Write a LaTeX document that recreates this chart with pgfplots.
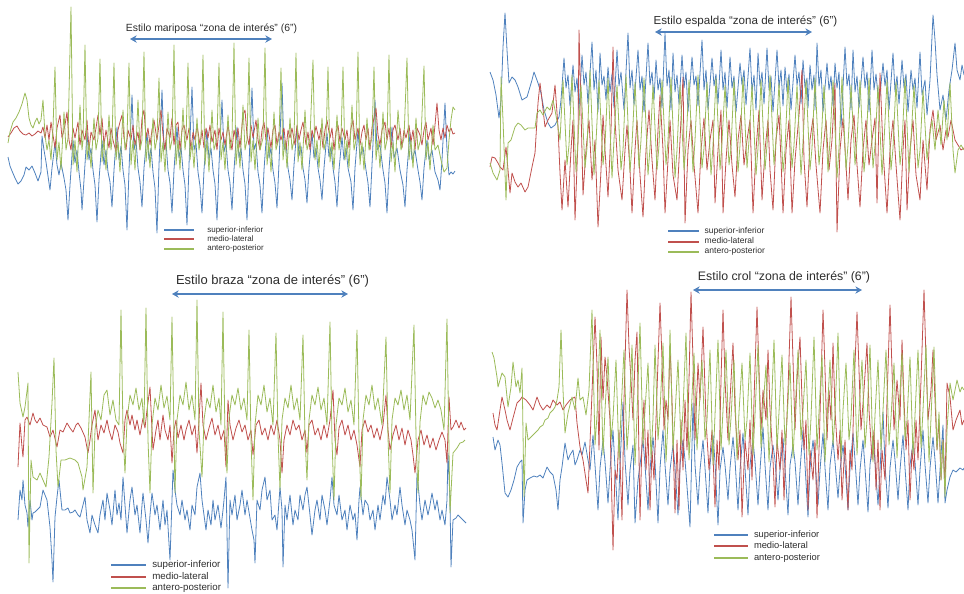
\documentclass[border=0pt]{standalone}
\usepackage{pgfplots}
\pgfplotsset{compat=1.18}
\usepackage{fontspec}
\setmainfont{Liberation Sans}
\usetikzlibrary{arrows.meta}
\definecolor{siblue}{RGB}{79,129,189}
\definecolor{mlred}{RGB}{192,80,77}
\definecolor{apgreen}{RGB}{155,187,89}
\definecolor{txt}{RGB}{45,45,45}

% every panel shares one canvas-sized coordinate frame (x right, y down)
\pgfplotsset{
  panel/.style={
    x=0.75pt, y=0.75pt, y dir=reverse,
    xmin=0, xmax=964, ymin=0, ymax=593,
    hide axis, clip=false,
    anchor=north west, at={(0pt,0pt)},
    legend cell align=left,
    every axis plot/.append style={line width=0.6pt, line join=round},
  },
  legbox/.style n args={4}{
    legend style={at={(axis cs:#1,#2)}, anchor=north west, draw=none, fill=none,
      inner sep=0pt, text=txt, font=\fontsize{#3}{#3}\selectfont, row sep=#4,
      nodes={inner ysep=0pt, inner xsep=0pt}},
  },
  legline/.style 2 args={
    legend image code/.code={\draw[##1, line width=1.5pt] (0pt,0pt) -- (#1,0pt); \path (#2,0pt);},
  },
}
\tikzset{zone/.style={siblue, line width=1.5pt, {Stealth[length=5pt,width=5.5pt]}-{Stealth[length=5pt,width=5.5pt]}}}

\begin{document}
\begin{tikzpicture}
\useasboundingbox (0pt,0pt) rectangle (723pt,-444.75pt);

% ---------------- mariposa ----------------
\begin{axis}[panel, legbox={163}{226}{6}{1.1pt}, legline={22pt}{32pt}]
\addplot[siblue] coordinates {(8,157)(10,166)(12,171)(15,178)(18,184)(21,181)(24,175)(26,167)(29,170)(32,166)(35,173)(38,181)(41,172)(42,136)(44,150)(46,162)(48,176)(50,190)(52,168)(55,143)(57,165)(59,175)(61,163)(64,178)(66,190)
(68,220)(70,185)(73,140)(75,163)(77,150)(79,172)(81,190)
(82,210)(84,180)(87,133)(89,160)(91,148)(93,170)(95,185)
(97,222)(99,180)(102,140)(104,165)(106,150)(108,172)(110,182)
(112,207)(114,170)(117,127)(119,160)(121,146)(123,170)(125,185)
(127,230)(129,170)(132,95)(134,150)(136,140)(138,168)(140,182)
(142,207)(144,168)(147,133)(149,160)(151,148)(153,172)(155,188)
(157,233)(159,165)(162,90)(164,150)(166,142)(168,170)(170,183)
(172,213)(174,170)(177,127)(179,158)(181,147)(183,170)(185,185)
(187,225)(189,165)(192,87)(194,150)(196,143)(198,172)(200,186)
(202,213)(204,170)(207,130)(209,160)(211,148)(213,170)(215,184)
(217,220)(219,165)(222,100)(224,152)(226,143)(228,170)(230,183)
(232,210)(234,170)(237,127)(239,158)(241,148)(243,170)(245,184)
(247,220)(249,165)(252,88)(254,150)(256,143)(258,172)(260,185)
(262,213)(264,170)(267,127)(269,158)(271,148)(273,170)(275,183)
(277,208)(279,163)(282,83)(284,150)(286,142)(288,168)(290,180)
(292,200)(294,165)(297,127)(299,156)(301,146)(303,168)(305,180)
(307,203)(309,168)(312,133)(314,158)(316,148)(318,168)(320,180)
(322,200)(324,168)(327,133)(329,157)(331,147)(333,168)(335,182)
(337,207)(339,170)(342,137)(344,160)(346,148)(348,168)(351,182)
(353,210)(355,168)(358,130)(360,158)(363,147)(366,170)(368,183)
(370,207)(372,165)(375,100)(377,150)(380,145)(383,170)(385,183)
(387,213)(389,170)(392,127)(394,158)(397,148)(400,170)(403,185)
(405,207)(407,170)(410,133)(412,160)(415,150)(418,170)(420,182)
(422,200)(424,168)(427,140)(429,160)(432,150)(435,172)(438,180)
(440,190)(442,160)(445,103)(447,150)(449,175)(451,172)(453,174)(455,171)};
\addplot[mlred] coordinates {(8,137)(11,133)(14,128)(17,126)(20,131)(23,134)(26,135)(29,133)(32,136)(35,134)(38,131)(41,133)(43,127)(45,138)(47,125)(49,140)(51,122)(53,135)(55,148)(57,128)(60,115)(62,138)(65,125)(67,112)(69,140)(71,150)(73,128)(75,138)(78,122)(80,145)(82,130)(85,140)(87,120)(89,150)(91,132)(94,140)(96,128)(98,115)(100,135)(102,118)(104,145)(106,130)(109,148)(111,128)(113,140)(116,152)(118,130)(120,122)(122,115)(124,138)(126,150)(128,130)(131,140)(133,125)(135,145)(138,132)(140,150)(142,118)(144,110)(146,138)(148,128)(150,145)(152,130)(154,120)(157,140)(159,125)(161,110)(163,135)(165,150)(167,128)(170,138)(172,118)(174,145)(176,125)(178,122)(180,150)(182,130)(184,125)(187,140)(189,128)(191,150)(193,132)(195,140)(197,125)(200,145)(202,130)(204,148)(206,128)(208,138)(210,125)(212,142)(215,130)(217,150)(219,128)(221,140)(223,132)(225,145)(228,125)(230,138)(232,150)(234,130)(236,140)(238,128)(240,148)(243,115)(245,110)(247,135)(249,145)(251,125)(253,138)(256,120)(258,140)(260,150)(262,130)(264,122)(266,140)(268,128)(271,148)(273,130)(275,125)(277,145)(279,132)(281,140)(284,128)(286,150)(288,130)(290,138)(292,128)(295,145)(297,125)(299,140)(301,130)(303,122)(306,145)(308,132)(310,150)(312,130)(314,138)(316,126)(319,140)(321,128)(323,148)(325,130)(327,120)(330,138)(332,128)(334,150)(336,132)(338,125)(340,142)(342,128)(345,140)(347,130)(349,148)(351,128)(353,120)(355,140)(358,128)(360,145)(362,132)(364,125)(366,140)(368,128)(370,150)(372,128)(374,118)(376,108)(378,135)(380,145)(382,130)(385,122)(387,140)(389,128)(391,148)(393,130)(395,125)(398,140)(400,128)(402,148)(404,130)(406,138)(409,125)(411,142)(413,130)(415,150)(417,128)(420,135)(422,145)(424,130)(426,122)(428,140)(431,128)(433,145)(435,125)(437,103)(439,130)(441,140)(443,128)(445,138)(447,125)(449,132)(451,128)(453,134)(455,133)};
\addplot[apgreen] coordinates {(8,143)(10,132)(13,122)(16,118)(19,112)(22,104)(25,93)(27,100)(29,118)(31,125)(33,128)(35,122)(37,118)(39,124)(41,120)(43,100)(45,135)(47,150)(49,140)(51,160)(53,128)
(55,67)(57,160)(59,142)(61,170)(64,112)(66,150)(68,138)
(71,7)(73,165)(75,140)(77,172)(80,105)(82,150)(83,140)
(85,45)(87,160)(89,142)(91,168)(94,118)(96,150)(98,138)
(100,59)(102,162)(104,140)(106,170)(109,115)(111,150)(112,140)
(114,63)(116,160)(118,142)(120,172)(123,110)(125,150)(127,138)
(129,63)(131,165)(133,140)(135,170)(138,100)(140,150)(142,140)
(144,52)(146,162)(148,140)(150,168)(153,118)(155,150)(157,138)
(159,78)(161,162)(163,142)(165,172)(168,112)(170,150)(172,140)
(174,45)(176,165)(178,140)(180,170)(183,108)(185,150)(186,140)
(188,63)(190,160)(192,142)(194,168)(197,118)(199,150)(201,138)
(203,55)(205,165)(207,140)(209,172)(212,110)(214,150)(217,138)
(219,63)(221,160)(223,142)(225,170)(228,115)(230,150)(232,138)
(234,43)(236,165)(238,140)(240,168)(243,105)(245,150)(247,140)
(249,58)(251,162)(253,140)(255,170)(258,118)(260,150)(263,138)
(265,48)(267,165)(269,142)(271,172)(274,112)(276,150)(279,138)
(281,68)(283,160)(285,140)(287,168)(290,118)(292,150)(294,140)
(296,53)(298,162)(300,142)(302,170)(305,110)(307,150)(310,138)
(313,60)(315,160)(317,140)(319,168)(322,118)(324,150)(326,140)
(328,67)(330,162)(332,142)(334,170)(337,115)(339,150)(341,138)
(343,67)(345,160)(347,140)(349,168)(352,105)(354,150)(356,140)
(358,52)(360,165)(362,142)(364,170)(367,118)(369,150)(372,138)
(374,67)(376,160)(378,140)(380,168)(383,112)(385,150)(387,140)
(389,55)(391,162)(393,142)(395,172)(398,110)(401,150)(404,138)
(407,58)(409,160)(411,140)(413,168)(416,118)(418,150)(421,138)
(424,66)(426,160)(428,142)(430,170)(433,125)(435,150)(438,145)(441,160)(444,172)(447,168)(449,140)(451,120)(453,107)(455,110)};
\legend{superior-inferior, medio-lateral, antero-posterior}
\node[text=txt, font=\fontsize{7.8}{9}\selectfont] at (axis cs:211.5,29) {Estilo mariposa “zona de interés” (6”)};
\draw[zone] (axis cs:130,39) -- (axis cs:272,39);
\end{axis}

% ---------------- espalda ----------------
\begin{axis}[panel, legbox={667}{227}{6.4}{1.5pt}, legline={23pt}{27pt}]
\addplot[siblue] coordinates {(490,72)(493,80)(496,95)(499,118)(501,100)(503,47)(505,13)(507,50)(509,83)(512,77)(515,80)(518,87)(522,100)(527,97)(532,80)(534,72)(538,83)(541,93)(544,110)(548,123)(551,128)(555,125)(559,117)(561,100)
(564,58)(566,88)(568,75)(570,106)(573,65)(575,92)(577,78)(579,110)(582,55)(584,85)(586,72)(588,104)(592,42)(594,90)(596,70)(598,112)
(600,53)(602,85)(604,76)(606,100)(608,67)(610,92)(612,74)(614,108)(617,50)(619,86)(621,72)(624,110)(628,33)(630,88)(632,70)(634,105)
(638,50)(640,90)(642,76)(644,112)(648,43)(650,85)(652,72)(654,100)(656,60)(658,90)(660,78)(662,108)(665,33)(667,86)(669,70)(671,110)
(673,53)(675,92)(677,75)(679,104)(682,55)(684,88)(686,72)(688,112)(692,57)(694,85)(696,76)(698,106)(702,40)(704,90)(706,70)(708,110)
(712,58)(714,86)(716,74)(718,104)(721,50)(723,90)(725,72)(727,108)(730,57)(732,88)(734,76)(736,112)(740,63)(742,85)(744,70)(746,105)
(750,48)(752,92)(754,75)(756,110)(758,53)(760,86)(762,72)(764,104)(767,48)(769,90)(771,76)(773,112)(777,50)(779,88)(781,70)(783,106)
(785,67)(787,92)(789,74)(791,110)(795,55)(797,85)(799,72)(801,104)(803,60)(805,88)(807,78)(808,108)(810,65)(812,90)(814,75)(815,110)
(817,43)(819,86)(821,70)(823,112)(827,63)(829,90)(831,76)(833,106)(835,63)(837,88)(839,72)(841,127)(845,47)(847,86)(849,74)(851,110)
(853,50)(855,92)(857,76)(859,108)(863,57)(865,88)(867,72)(869,112)(872,50)(874,90)(876,74)(879,106)(883,63)(885,86)(887,70)(889,110)
(893,53)(895,92)(897,76)(899,104)(902,60)(904,88)(906,74)(908,112)(911,70)(913,90)(915,78)(917,108)(920,52)(922,95)
(925,80)(927,115)(930,80)(933,15)(935,40)(937,75)(940,110)(943,95)(946,120)(949,90)(952,70)(955,43)(957,70)(960,80)(962,65)(964,75)};
\addplot[mlred] coordinates {(490,167)(492,157)(495,158)(498,163)(500,167)(503,170)(506,147)(508,170)(510,193)(512,173)(515,182)(518,187)(521,183)(525,192)(528,187)(532,167)(535,153)(538,103)(540,83)(542,100)(545,127)(548,120)(552,113)(555,85)(558,127)(560,173)(562,210)
(565,160)(568,207)(571,150)(573,120)(575,220)(578,140)(579,30)(581,110)(583,195)(586,150)(589,120)(592,180)(595,140)(598,227)(601,170)(603,115)(605,150)(608,197)(611,130)(613,47)(615,120)(618,170)(622,200)(625,150)(627,125)(630,170)(632,213)(635,150)(637,120)(640,175)(643,217)(646,150)(649,110)(652,160)(655,200)(658,130)(660,95)(663,150)(665,213)(668,160)(670,120)(673,175)(677,200)(680,140)(683,77)(685,223)(688,150)(691,120)(694,165)(698,213)(701,150)(704,118)(707,170)(710,140)(713,120)(715,203)(718,150)(721,110)(723,213)(726,160)(729,120)(732,165)(735,197)(738,140)(741,115)(744,165)(747,140)(750,120)(753,213)(756,150)(759,110)(762,200)(765,150)(768,120)(770,170)(773,210)(776,140)(779,115)(781,160)(783,213)(786,150)(789,120)(792,213)(795,160)(799,115)(802,70)(804,160)(807,207)(810,140)(813,118)(816,165)(820,213)(823,150)(826,120)(829,170)(832,140)(835,83)(837,232)(840,150)(843,118)(846,165)(848,200)(851,140)(854,115)(857,165)(860,207)(863,150)(866,120)(869,165)(872,140)(875,118)(877,203)(880,73)(883,150)(887,213)(890,150)(893,120)(896,165)(900,220)(903,150)(905,120)(907,210)(910,150)(913,120)(916,175)(920,200)(923,140)(927,190)(930,130)(933,110)(936,140)(940,125)(943,150)(946,130)(948,137)(951,120)(955,140)(958,145)(961,150)(964,148)};
\addplot[apgreen] coordinates {(490,163)(493,173)(497,180)(500,170)(501,77)(503,120)(506,200)(508,143)(511,140)(515,127)(518,123)(521,125)(525,130)(528,128)(532,128)(535,128)(537,113)(540,110)(543,115)(547,107)(550,110)(553,100)(555,110)(558,127)(560,140)
(563,80)(567,165)(569,145)(572,75)(576,172)(578,140)(581,85)(585,168)(587,148)(590,70)(594,175)(596,142)(599,80)(603,165)(605,145)
(608,78)(612,178)(614,140)(617,85)(621,170)(623,150)(626,75)(630,172)(632,145)(635,82)(639,168)(641,140)(644,78)(648,175)(650,148)
(653,85)(657,170)(659,145)(662,80)(666,165)(668,140)(671,77)(675,178)(677,150)(680,85)(684,170)(686,145)(689,80)(693,172)(695,140)
(698,75)(702,168)(704,148)(707,82)(711,175)(713,145)(716,78)(720,170)(722,142)(725,85)(729,165)(731,148)(734,80)(738,172)(740,145)
(743,77)(747,168)(749,140)(752,85)(756,175)(758,148)(761,80)(765,170)(767,145)(770,75)(774,165)(776,140)(779,83)(783,172)(785,150)
(788,78)(792,168)(794,145)(797,85)(801,175)(803,142)(806,80)(810,170)(812,148)(815,78)(819,165)(821,145)(824,85)(828,172)(830,140)
(833,80)(837,178)(839,148)(842,77)(846,170)(848,145)(851,85)(855,165)(857,140)(860,80)(864,172)(866,150)(869,78)(873,168)(875,145)
(878,85)(882,175)(884,142)(887,80)(891,170)(893,148)(896,82)(900,165)(902,145)(905,78)(909,172)(911,140)(914,85)(918,168)(920,150)
(923,90)(927,160)(929,140)(932,120)(935,150)(938,110)(941,145)(944,100)(947,140)(950,83)(953,150)(955,173)(958,150)(961,145)(964,150)};
\legend{superior-inferior, medio-lateral, antero-posterior}
\node[text=txt, font=\fontsize{8.7}{10}\selectfont] at (axis cs:745.5,21) {Estilo espalda “zona de interés” (6”)};
\draw[zone] (axis cs:655,32) -- (axis cs:812,32);
\end{axis}

% ---------------- braza ----------------
\begin{axis}[panel, legbox={110}{560}{7.3}{2.0pt}, legline={26pt}{30.5pt}]
\addplot[siblue] coordinates {(18,520)(20,490)(22,500)(23,480)(25,505)(27,513)(28,527)(30,500)(32,520)(33,513)(35,512)(37,510)(40,507)(43,490)(47,500)(50,527)(52,560)(53,582)(55,517)(57,497)(59,480)(62,510)(65,510)(68,508)(70,513)(73,512)(75,510)(78,515)(80,517)(83,505)(85,497)(87,520)(90,533)(92,515)(95,525)(98,533)(100,515)(103,500)(105,520)(107,493)(110,510)(112,525)(115,490)(117,515)(119,503)(121,520)(123,477)(125,505)(127,533)(130,500)(132,487)(135,515)(137,505)(140,533)(142,505)(143,493)(146,520)(148,543)(150,515)(152,493)(155,515)(157,505)(160,530)(163,500)(165,525)(167,510)(170,560)(172,500)(173,470)(175,490)(177,505)(180,515)(182,500)(185,520)(187,510)(190,530)(192,505)(195,515)(197,487)(200,473)(202,500)(204,515)(206,530)(208,510)(211,525)(213,500)(215,520)(218,505)(221,528)(223,510)(224,500)(226,477)(228,588)(230,500)(232,515)(235,495)(237,520)(240,505)(242,490)(245,515)(247,500)(250,518)(252,530)(254,540)(255,563)(257,500)(260,510)(262,490)(265,477)(267,500)(270,490)(272,520)(275,515)(277,530)(280,487)(282,510)(283,567)(285,505)(287,520)(290,495)(293,525)(295,510)(298,520)(300,495)(303,510)(305,495)(307,487)(310,515)(312,535)(315,510)(317,500)(320,520)(322,495)(325,510)(327,525)(330,500)(332,477)(334,505)(337,515)(339,495)(342,520)(345,510)(347,530)(350,505)(353,520)(355,513)(357,540)(359,500)(360,487)(363,515)(365,500)(368,505)(370,520)(373,510)(375,530)(378,505)(380,520)(383,495)(385,505)(387,477)(390,500)(392,520)(395,505)(397,515)(400,487)(402,505)(405,525)(407,510)(410,520)(412,530)(415,560)(417,473)(420,505)(422,520)(425,500)(428,515)(430,505)(432,493)(435,510)(437,500)(440,520)(442,510)(445,525)(447,500)(448,453)(450,500)(451,567)(453,520)(456,518)(458,515)(461,518)(463,520)(466,523)};
\addplot[mlred] coordinates {(18,467)(20,423)(22,447)(23,457)(25,420)(27,417)(30,425)(33,413)(35,420)(37,423)(40,418)(43,425)(47,427)(50,437)(53,430)(57,447)(60,430)(63,432)(67,423)(70,428)(73,432)(76,425)(78,423)(81,428)(85,437)(88,453)(90,440)(92,425)(95,410)(98,440)(101,425)(104,433)(107,420)(109,430)(112,440)(115,425)(118,432)(120,443)(123,453)(125,420)(127,410)(130,425)(132,415)(135,430)(137,420)(140,435)(143,418)(145,428)(147,410)(150,387)(152,430)(153,450)(156,430)(158,420)(160,440)(163,415)(165,430)(168,440)(170,425)(172,463)(174,430)(176,420)(178,438)(181,425)(184,440)(186,430)(189,420)(192,435)(195,425)(197,453)(199,420)(201,383)(203,425)(206,440)(209,428)(212,418)(215,435)(218,425)(221,440)(224,430)(226,467)(228,400)(230,425)(233,440)(236,428)(239,420)(242,432)(245,425)(248,440)(251,430)(253,455)(256,425)(259,420)(262,435)(265,428)(268,440)(271,425)(274,435)(277,420)(280,440)(282,473)(284,440)(287,425)(290,435)(293,420)(296,430)(299,425)(302,440)(305,430)(307,453)(309,425)(312,420)(315,435)(318,428)(321,440)(324,425)(327,438)(330,420)(333,390)(335,440)(337,455)(339,428)(342,420)(345,435)(348,425)(351,440)(354,430)(357,445)(360,467)(362,430)(365,420)(368,432)(371,425)(374,438)(377,428)(380,440)(383,425)(386,395)(388,430)(390,450)(393,435)(396,425)(399,440)(402,428)(405,445)(408,430)(411,440)(413,455)(415,473)(418,440)(421,430)(424,445)(427,435)(430,448)(433,438)(436,450)(439,440)(442,432)(445,440)(447,463)(449,397)(451,430)(453,427)(456,420)(459,428)(461,422)(464,430)(466,428)};
\addplot[apgreen] coordinates {(18,372)(20,403)(23,417)(25,407)(28,383)(29,563)(31,460)(33,477)(37,480)(40,473)(43,480)(46,487)(49,457)(52,403)(54,358)(56,450)(58,487)(61,460)(65,460)(70,458)(75,460)(78,463)(82,477)(83,490)(87,467)(89,420)(91,372)(93,493)(95,430)(98,410)(101,420)(104,395)(107,390)(110,415)(113,400)(116,420)(119,425)
(121,310)(123,430)(125,473)(127,420)(130,395)(133,405)(136,388)(139,410)(142,398)(144,425)
(146,308)(148,440)(150,493)(152,425)(155,398)(158,410)(161,385)(164,408)(167,396)(170,420)
(172,317)(174,435)(175,493)(177,420)(180,395)(183,405)(186,382)(189,410)(192,395)(195,420)
(197,300)(199,430)(202,477)(204,420)(207,398)(210,408)(213,385)(216,412)(219,398)(221,425)
(223,312)(225,435)(227,473)(229,418)(232,395)(235,405)(238,388)(241,410)(244,398)(247,420)
(249,330)(251,440)(253,500)(255,425)(258,395)(261,405)(264,385)(267,412)(270,398)(273,425)
(276,333)(278,435)(280,490)(282,420)(285,398)(288,408)(291,385)(294,410)(297,398)(300,420)
(303,335)(305,438)(307,480)(309,420)(312,395)(315,405)(318,387)(321,410)(324,398)(327,425)
(330,322)(332,440)(334,500)(336,425)(339,398)(342,405)(345,388)(348,412)(351,400)(354,425)
(357,330)(359,438)(361,500)(363,420)(366,395)(369,405)(372,385)(375,410)(378,398)(382,425)
(386,337)(388,438)(390,493)(392,420)(395,398)(398,405)(401,390)(404,410)(407,395)(410,420)
(414,325)(416,435)(418,493)(420,422)(423,395)(426,405)(429,392)(432,398)(435,408)(438,400)(441,410)(444,430)
(447,319)(449,450)(450,513)(453,453)(457,448)(460,443)(463,442)(465,440)};
\legend{superior-inferior, medio-lateral, antero-posterior}
\node[text=txt, font=\fontsize{9.75}{11}\selectfont] at (axis cs:272.5,281) {Estilo braza “zona de interés” (6”)};
\draw[zone] (axis cs:172,294) -- (axis cs:348,294);
\end{axis}

% ---------------- crol ----------------
\begin{axis}[panel, legbox={713}{530}{7}{2.3pt}, legline={25.5pt}{29.5pt}]
\addplot[siblue] coordinates {(493,437)(495,450)(498,440)(500,445)(502,463)(505,493)(508,497)(511,490)(514,480)(517,467)(520,462)(522,460)(523,523)(525,490)(527,480)(530,478)(534,476)(537,477)(540,475)(543,478)(547,467)(550,472)(553,475)(556,490)(558,510)(560,480)(562,467)(565,443)(568,460)(570,455)(573,450)(575,465)(577,460)(580,450)(582,455)(585,442)(588,460)(590,470)
(593,435)(595,465)(598,510)(600,468)(603,440)(605,462)(608,503)(610,470)(613,430)(615,468)(618,520)(620,465)(623,402)(625,460)(628,505)(630,470)
(633,445)(635,523)(638,480)(640,465)(643,440)(645,465)(648,510)(650,470)(653,437)(655,462)(658,523)(660,468)(663,430)(665,465)(668,505)(670,470)
(673,445)(675,468)(678,515)(680,465)(683,440)(685,460)(688,500)(690,527)(693,403)(695,465)(698,505)(700,470)(703,440)(705,468)(708,513)(710,465)
(713,435)(715,462)(718,525)(720,470)(723,447)(725,465)(728,500)(730,468)(733,437)(735,460)(738,510)(740,470)(743,433)(745,468)(748,515)(750,465)
(753,440)(755,462)(758,505)(760,470)(763,427)(765,465)(768,510)(770,468)(773,445)(775,460)(778,500)(780,470)(783,438)(785,468)(788,515)(790,465)
(793,445)(795,462)(798,505)(800,470)(803,430)(805,465)(808,517)(810,468)(813,440)(815,460)(818,505)(820,470)(823,433)(825,468)(828,510)(830,465)
(833,440)(835,462)(838,498)(840,470)(843,445)(845,465)(848,510)(850,468)(853,433)(855,460)(858,505)(860,470)(863,440)(865,468)(868,512)(870,465)
(873,437)(875,462)(878,505)(880,470)(883,412)(885,465)(888,508)(890,468)(893,440)(895,460)(898,500)(900,470)(903,435)(905,468)(908,510)(910,465)
(913,443)(915,462)(918,505)(920,470)(923,430)(925,465)(928,503)(930,468)(933,437)(935,460)(938,503)(940,470)
(943,425)(945,503)(947,490)(950,477)(953,470)(956,472)(960,468)(963,470)(964,468)};
\addplot[mlred] coordinates {(493,413)(495,425)(497,430)(500,410)(502,397)(505,410)(507,420)(510,430)(513,418)(517,403)(520,400)(522,397)(526,400)(530,405)(533,410)(537,397)(540,405)(543,410)(547,405)(550,408)(553,400)(557,405)(560,402)(563,410)(566,405)(570,400)(573,398)(575,397)(577,423)(580,447)(583,460)(586,480)(588,493)
(595,317)(597,365)(599,450)(601,337)(603,400)(605,357)(607,377)(610,420)(613,550)(615,470)(617,480)(619,430)(622,520)(624,400)(625,363)
(627,290)(629,347)(631,380)(633,420)(635,360)(637,332)(640,520)(642,440)(644,400)(646,470)(648,430)(650,510)(652,450)(654,480)(656,420)
(660,303)(662,360)(664,430)(666,400)(668,420)(670,345)(672,400)(675,513)(677,440)(679,510)(681,420)(683,470)(685,400)(687,450)(689,380)
(691,292)(693,360)(695,440)(698,363)(700,400)(703,327)(706,420)(709,470)(712,430)(715,507)(717,440)(719,470)(721,380)
(723,310)(725,380)(728,440)(730,400)(733,343)(735,410)(738,460)(740,430)(742,517)(745,440)(748,470)(750,420)(752,480)(754,400)
(757,307)(759,370)(761,430)(763,390)(766,420)(768,350)(770,410)(773,460)(775,507)(777,440)(780,470)(782,430)(784,500)(786,440)(788,390)
(791,297)(793,360)(795,430)(797,380)(800,337)(802,400)(804,450)(806,420)(808,510)(810,450)(813,480)(815,440)(817,518)(819,450)(821,380)
(823,310)(825,370)(827,440)(829,390)(831,420)(833,343)(835,410)(838,460)(840,430)(842,500)(845,440)(848,510)(850,450)(852,470)(854,390)
(857,312)(859,370)(861,430)(864,390)(867,343)(869,410)(872,460)(874,430)(876,490)(878,440)(880,510)(882,450)(885,480)(887,400)
(890,305)(892,370)(894,430)(897,380)(900,420)(902,340)(904,400)(906,450)(908,420)(910,500)(912,450)(914,470)(916,420)(918,460)(921,380)
(924,290)(926,360)(928,420)(931,390)(933,350)(935,400)(937,450)(939,420)(941,480)(943,440)(945,490)(947,383)(950,397)(953,430)(956,420)(960,410)(962,425)(964,420)};
\addplot[apgreen] coordinates {(492,352)(494,358)(497,377)(498,387)(500,380)(502,373)(505,377)(508,407)(511,387)(513,362)(516,387)(518,380)(520,393)(522,368)(524,497)(526,423)(528,440)(531,437)(535,433)(538,430)(540,427)(543,425)(545,420)(548,418)(550,413)(553,410)(555,407)(557,400)(559,387)(561,330)(563,390)(565,433)(568,413)(570,405)(572,397)(575,410)(578,378)(580,400)(583,397)(586,415)(589,390)
(592,310)(595,445)(597,415)(600,330)(603,455)(605,410)(608,357)(611,440)(613,418)(616,360)(619,460)(621,412)(624,350)(627,450)(629,420)
(632,345)(635,465)(637,415)(640,323)(643,445)(645,410)(648,363)(651,458)(653,418)(655,345)(658,440)(660,412)(663,343)(666,462)(668,420)
(670,330)(673,450)(675,415)(678,360)(681,445)(683,410)(686,333)(689,460)(691,418)(694,353)(697,450)(699,412)(702,360)(705,440)(707,420)
(710,350)(713,465)(715,415)(718,340)(721,450)(723,410)(726,350)(729,445)(731,418)(734,360)(737,460)(739,412)(742,363)(745,440)(747,420)
(750,353)(753,455)(755,415)(758,345)(761,448)(763,410)(766,365)(769,462)(771,418)(774,340)(777,450)(779,412)(782,355)(785,445)(787,420)
(790,363)(793,458)(795,415)(798,350)(801,440)(803,410)(806,360)(809,455)(811,418)(814,337)(817,450)(819,412)(822,355)(825,462)(827,420)
(830,360)(833,445)(835,415)(838,333)(841,458)(843,410)(846,363)(849,440)(851,418)(854,350)(857,455)(859,412)(862,360)(865,448)(867,420)
(870,345)(873,462)(875,415)(878,360)(881,450)(883,410)(886,350)(889,445)(891,418)(894,363)(897,458)(899,412)(902,353)(905,440)(907,420)
(910,357)(913,455)(915,415)(918,350)(921,448)(923,410)(926,345)(929,462)(931,418)(934,347)(937,450)(939,412)
(941,480)(943,440)(945,497)(947,430)(950,383)(953,400)(957,380)(960,392)(962,387)(964,390)};
\legend{superior-inferior, medio-lateral, antero-posterior}
\node[text=txt, font=\fontsize{9.25}{11}\selectfont] at (axis cs:784,277) {Estilo crol “zona de interés” (6”)};
\draw[zone] (axis cs:693,290) -- (axis cs:862,290);
\end{axis}
\end{tikzpicture}
\end{document}
